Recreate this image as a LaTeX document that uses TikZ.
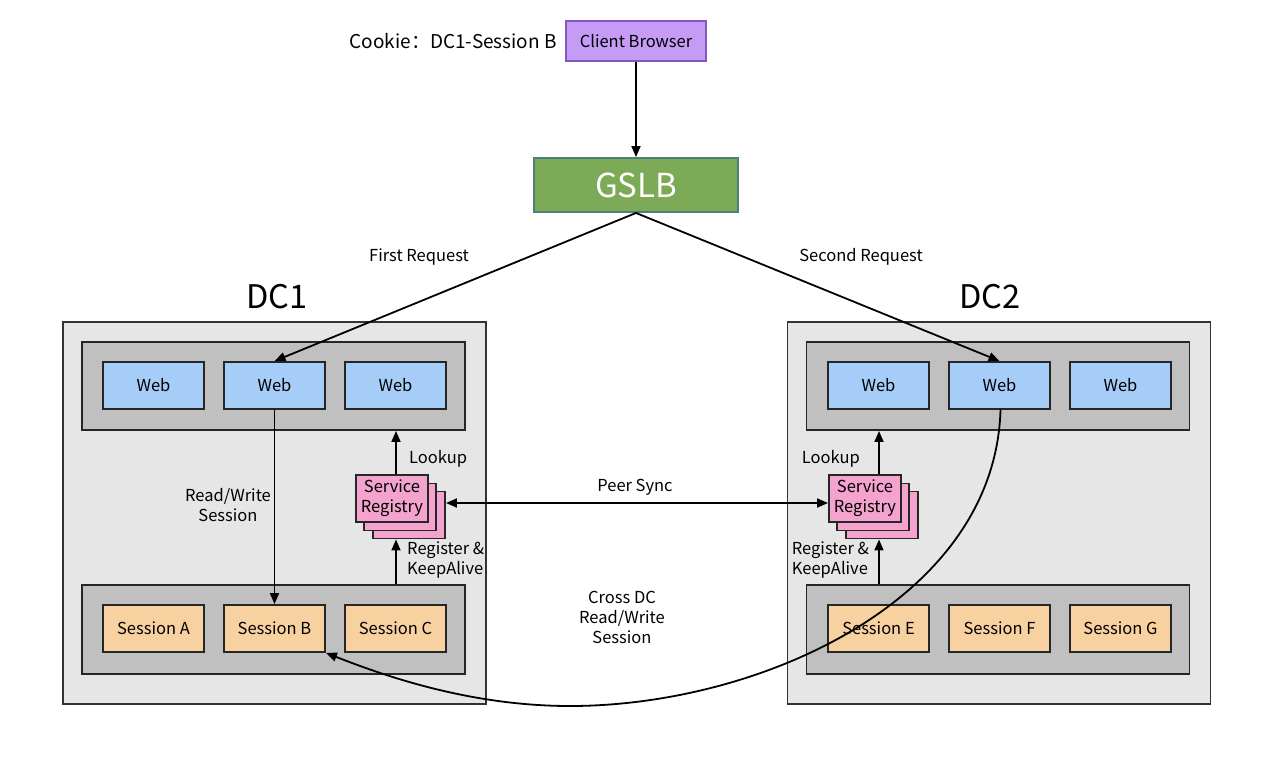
\documentclass[tikz,border=0pt]{standalone}
\usepackage{fontspec}
\setmainfont{Noto Sans CJK SC}
\usepackage{tikz}
\usetikzlibrary{arrows.meta,positioning,calc}
\definecolor{browserpurple}{HTML}{C59BF6}
\definecolor{browserline}{HTML}{8358C0}
\definecolor{gslbgreen}{HTML}{7DAA57}
\definecolor{gslbline}{HTML}{4F7F7A}
\definecolor{dcgray}{HTML}{E6E6E6}
\definecolor{panelgray}{HTML}{C0C0C0}
\definecolor{webblue}{HTML}{A6CDF8}
\definecolor{sessionorange}{HTML}{F8D1A1}
\definecolor{registrypink}{HTML}{F4A3CF}

\begin{document}
\begin{tikzpicture}[
        x=1pt, y=-1pt,
        font=\fontsize{16.5}{20}\selectfont,
        box/.style={rectangle, draw=black!85, line width=1.9pt, fill=#1,
            inner sep=0pt, align=center},
        webbox/.style={box=webblue, minimum width=101pt, minimum height=47pt},
        sessbox/.style={box=sessionorange, minimum width=101pt, minimum height=47pt},
        panel/.style={box=panelgray, minimum width=383pt, minimum height=88pt},
        dcbox/.style={box=dcgray, draw=black!80, minimum width=423pt, minimum height=382pt},
        regbox/.style={box=registrypink, minimum width=72pt, minimum height=47pt},
        arr/.style={-{Triangle[length=11pt,width=9pt]}, line width=1.8pt},
        lbl/.style={align=center, inner sep=0pt}
    ]
        \useasboundingbox (0,0) rectangle (1274,774);

        % top
        \node[box=browserpurple, draw=browserline, minimum width=140pt, minimum height=40pt] (browser) at (636,41) {Client Browser};
        \node[lbl, anchor=east, font=\fontsize{19}{22}\selectfont] (cookie) at (557,41) {Cookie：DC1-Session B};
        \node[box=gslbgreen, draw=gslbline, minimum width=204pt, minimum height=54pt,
            text=white, font=\fontsize{33}{35}\selectfont] (gslb) at (636,185) {GSLB};
        \draw[arr] (browser) -- (gslb);

        % DC1
        \node[dcbox] (dc1) at (274.5,513) {};
        \node[lbl, font=\fontsize{32.5}{35}\selectfont] (dc1label) at (277,297) {DC1};
        \node[panel] (webp1) at (273.5,386) {};
        \node[webbox] (web1a) at (153.5,385.5) {Web};
        \node[webbox] (web1b) at (274.5,385.5) {Web};
        \node[webbox] (web1c) at (395.5,385.5) {Web};
        \node[panel, minimum height=89pt] (sesp1) at (273.5,629.5) {};
        \node[sessbox] (sessA) at (153.5,628.5) {Session A};
        \node[sessbox] (sessB) at (274.5,628.5) {Session B};
        \node[sessbox] (sessC) at (395.5,628.5) {Session C};
        \node[regbox] (reg1c) at (409,515) {};
        \node[regbox] (reg1b) at (400,507) {};
        \node[regbox] (reg1) at (392,498.5) {Service\\Registry};

        % DC2
        \node[dcbox] (dc2) at (999,513) {};
        \node[lbl, font=\fontsize{32.5}{35}\selectfont] (dc2label) at (990,297) {DC2};
        \node[panel] (webp2) at (998,386) {};
        \node[webbox] (web2a) at (878.5,385.5) {Web};
        \node[webbox] (web2b) at (999.5,385.5) {Web};
        \node[webbox] (web2c) at (1120.5,385.5) {Web};
        \node[panel, minimum height=89pt] (sesp2) at (998,629.5) {};
        \node[sessbox] (sessE) at (878.5,628.5) {Session E};
        \node[sessbox] (sessF) at (999.5,628.5) {Session F};
        \node[sessbox] (sessG) at (1120.5,628.5) {Session G};
        \node[regbox] (reg2c) at (882,515) {};
        \node[regbox] (reg2b) at (873,507) {};
        \node[regbox] (reg2) at (865,498.5) {Service\\Registry};

        % requests
        \draw[arr] (gslb.south) -- (web1b.north);
        \draw[arr] (gslb.south) -- (web2b.north);
        \node[lbl] (first) at (419,257) {First Request};
        \node[lbl] (second) at (861,257) {Second Request};

        % DC1 links
        \draw[arr] (web1b) -- (sessB);
        \node[lbl] (rw1) at (228,505) {Read/Write\\Session};
        \draw[arr] ([xshift=4pt]reg1.north) -- ([xshift=4pt]reg1.north |- webp1.south);
        \draw[arr] ([xshift=4pt]reg1.north |- sesp1.north) -- ([xshift=4pt]reg1.north |- reg1c.south);
        \node[lbl, anchor=west] (look1) at (409,459) {Lookup};
        \node[lbl, anchor=west, align=left] (keep1) at (407,560) {Register \&\\KeepAlive};

        % DC2 links
        \draw[arr] ([xshift=14pt]reg2.north) -- ([xshift=14pt]reg2.north |- webp2.south);
        \draw[arr] ([xshift=14pt]reg2.north |- sesp2.north) -- ([xshift=14pt]reg2.north |- reg2c.south);
        \node[lbl, anchor=east] (look2) at (860,459) {Lookup};
        \node[lbl, anchor=east, align=left] (keep2) at (869,560) {Register \&\\KeepAlive};

        % peer sync
        \draw[{Triangle[length=11pt,width=9pt]}-{Triangle[length=11pt,width=9pt]}, line width=1.8pt]
            ([yshift=-4.5pt]reg1c.east |- reg1.east) -- ([yshift=-4.5pt]reg2.west);
        \node[lbl] (peer) at (635,487) {Peer Sync};

        % cross DC
        \coordinate (low) at (570,706);
        \draw[arr] ([xshift=1pt]web2b.south) .. controls (995,600) and (760,706) .. (low)
            .. controls (470,706) and (385,676) .. (sessB.south east);
        \node[lbl] (cross) at (622,617) {Cross DC\\Read/Write\\Session};
    \end{tikzpicture}
\end{document}
